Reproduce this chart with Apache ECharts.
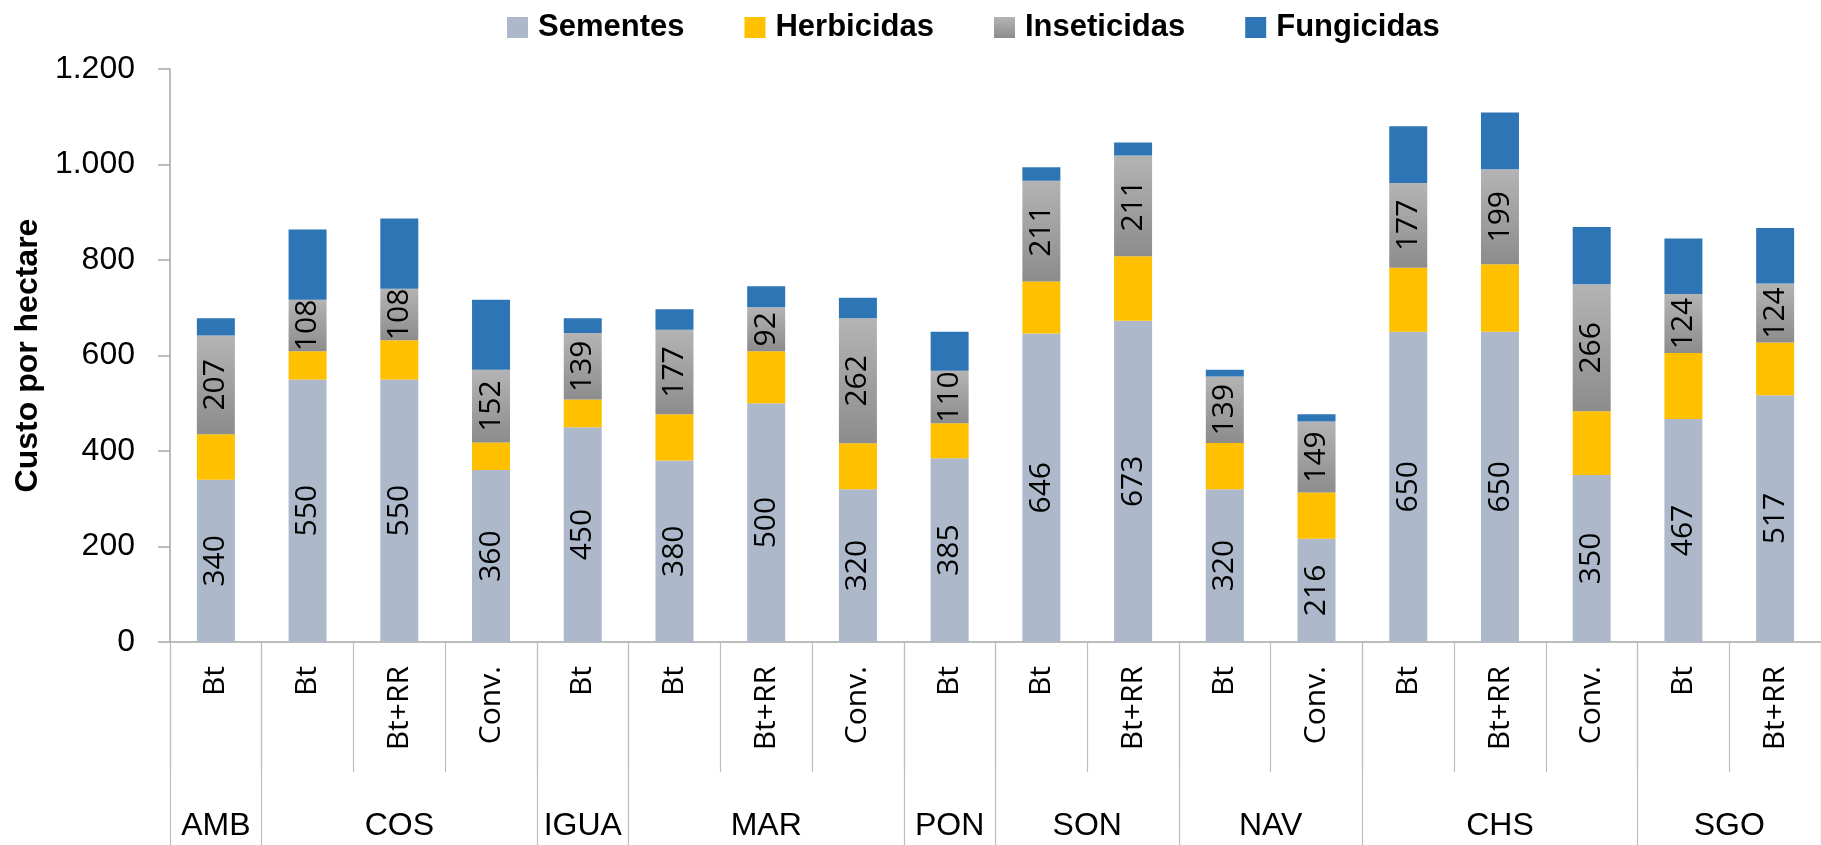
<!DOCTYPE html>
<html>
<head>
<meta charset="utf-8">
<script src="https://cdn.jsdelivr.net/npm/echarts@6/dist/echarts.min.js"></script>
<style>
  html, body { margin: 0; padding: 0; background: #fff; }
  #chart-box { width: 1821px; height: 845px; }
</style>
</head>
<body>
<div id="chart-box"></div>
<script>
// regiões e quantas barras cada uma tem
var groups = ['AMB', 'COS', 'IGUA', 'MAR', 'PON', 'SON', 'NAV', 'CHS', 'SGO'];
var groupSizes = [1, 3, 1, 3, 1, 2, 2, 3, 2];
var types = ['Bt', 'Bt', 'Bt+RR', 'Conv.', 'Bt', 'Bt', 'Bt+RR', 'Conv.', 'Bt',
             'Bt', 'Bt+RR', 'Bt', 'Conv.', 'Bt', 'Bt+RR', 'Conv.', 'Bt', 'Bt+RR'];

var sementes    = [340, 550, 550, 360, 450, 380, 500, 320, 385, 646, 673, 320, 216, 650, 650, 350, 467, 517];
var herbicidas  = [95, 59, 82, 58, 58, 97, 109, 96, 73, 109, 135, 97, 97, 134, 141, 133, 138, 110];
var inseticidas = [207, 108, 108, 152, 139, 177, 92, 262, 110, 211, 211, 139, 149, 177, 199, 266, 124, 124];
var fungicidas  = [36, 147, 147, 147, 31, 43, 44, 43, 82, 28, 27, 14, 15, 119, 119, 120, 116, 116];

var yTicks = [0, 200, 400, 600, 800, 1000, 1200];

// limites e centros dos grupos no eixo de baixo
var bounds = [0];
var centers = [];
groupSizes.forEach(function (n) {
    var start = bounds[bounds.length - 1];
    centers.push(start + n / 2);
    bounds.push(start + n);
});

var labelFont = 'Open Sans';
var axisFont = 'Liberation Sans';

var myChart = echarts.init(document.getElementById('chart-box'));

var insideLabel = {
    show: true,
    position: 'inside',
    rotate: 90,
    color: '#000',
    fontFamily: labelFont,
    fontSize: 30
};

var option = {
    animation: false,
    legend: {
        left: 502,
        top: 7,
        itemWidth: 21,
        itemHeight: 21,
        itemGap: 60,
        icon: 'rect',
        textStyle: {
            fontFamily: axisFont,
            fontWeight: 'bold',
            fontSize: 31,
            color: '#000',
            padding: [0, 0, 0, 5]
        },
        data: ['Sementes', 'Herbicidas', 'Inseticidas', 'Fungicidas']
    },
    grid: {
        left: 170,
        top: 69,
        bottom: 203,
        right: -24
    },
    xAxis: [
        {
            type: 'category',
            data: types,
            boundaryGap: true,
            position: 'bottom',
            axisLine: { show: true, lineStyle: { color: '#a6a6a6', width: 1.5 } },
            axisTick: {
                show: true,
                interval: 0,
                length: 130,
                lineStyle: { color: '#bdbdbd', width: 1.2 }
            },
            axisLabel: {
                interval: 0,
                rotate: 90,
                margin: 24,
                color: '#000',
                fontFamily: labelFont,
                fontSize: 30
            }
        },
        {
            type: 'value',
            min: 0,
            max: types.length,
            position: 'bottom',
            axisLine: { show: false },
            splitLine: { show: false },
            axisTick: {
                show: true,
                customValues: bounds,
                length: 203,
                lineStyle: { color: '#bdbdbd', width: 1.2 }
            },
            axisLabel: {
                customValues: centers,
                margin: 168,
                color: '#000',
                fontFamily: axisFont,
                fontSize: 32,
                formatter: function (v) {
                    var i = centers.indexOf(v);
                    return i >= 0 ? groups[i] : '';
                }
            }
        }
    ],
    yAxis: {
        type: 'value',
        min: 0,
        max: 1200,
        interval: 200,
        name: 'Custo por hectare',
        nameLocation: 'middle',
        nameGap: 125,
        nameTextStyle: {
            fontFamily: axisFont,
            fontWeight: 'bold',
            fontSize: 32,
            color: '#000'
        },
        axisLine: { show: true, lineStyle: { color: '#a6a6a6', width: 1.5 } },
        axisTick: { show: true, length: 12, lineStyle: { color: '#a6a6a6', width: 1.5 } },
        splitLine: { show: false },
        axisLabel: {
            margin: 35,
            color: '#000',
            fontFamily: axisFont,
            fontSize: 32,
            customValues: yTicks,
            formatter: function (v) {
                return String(v).replace(/\B(?=(\d{3})+(?!\d))/g, '.');
            }
        }
    },
    series: [
        {
            name: 'Sementes',
            type: 'bar',
            stack: 'custo',
            barWidth: 38,
            itemStyle: { color: '#adb9ca' },
            label: insideLabel,
            data: sementes
        },
        {
            name: 'Herbicidas',
            type: 'bar',
            stack: 'custo',
            barWidth: 38,
            itemStyle: { color: '#ffc000' },
            data: herbicidas
        },
        {
            name: 'Inseticidas',
            type: 'bar',
            stack: 'custo',
            barWidth: 38,
            itemStyle: {
                color: new echarts.graphic.LinearGradient(0, 0, 0, 1, [
                    { offset: 0, color: '#b4b4b4' },
                    { offset: 1, color: '#8c8c8c' }
                ])
            },
            label: insideLabel,
            data: inseticidas
        },
        {
            name: 'Fungicidas',
            type: 'bar',
            stack: 'custo',
            barWidth: 38,
            itemStyle: { color: '#2e75b6' },
            data: fungicidas
        }
    ]
};
myChart.setOption(option);
</script>
</body>
</html>
